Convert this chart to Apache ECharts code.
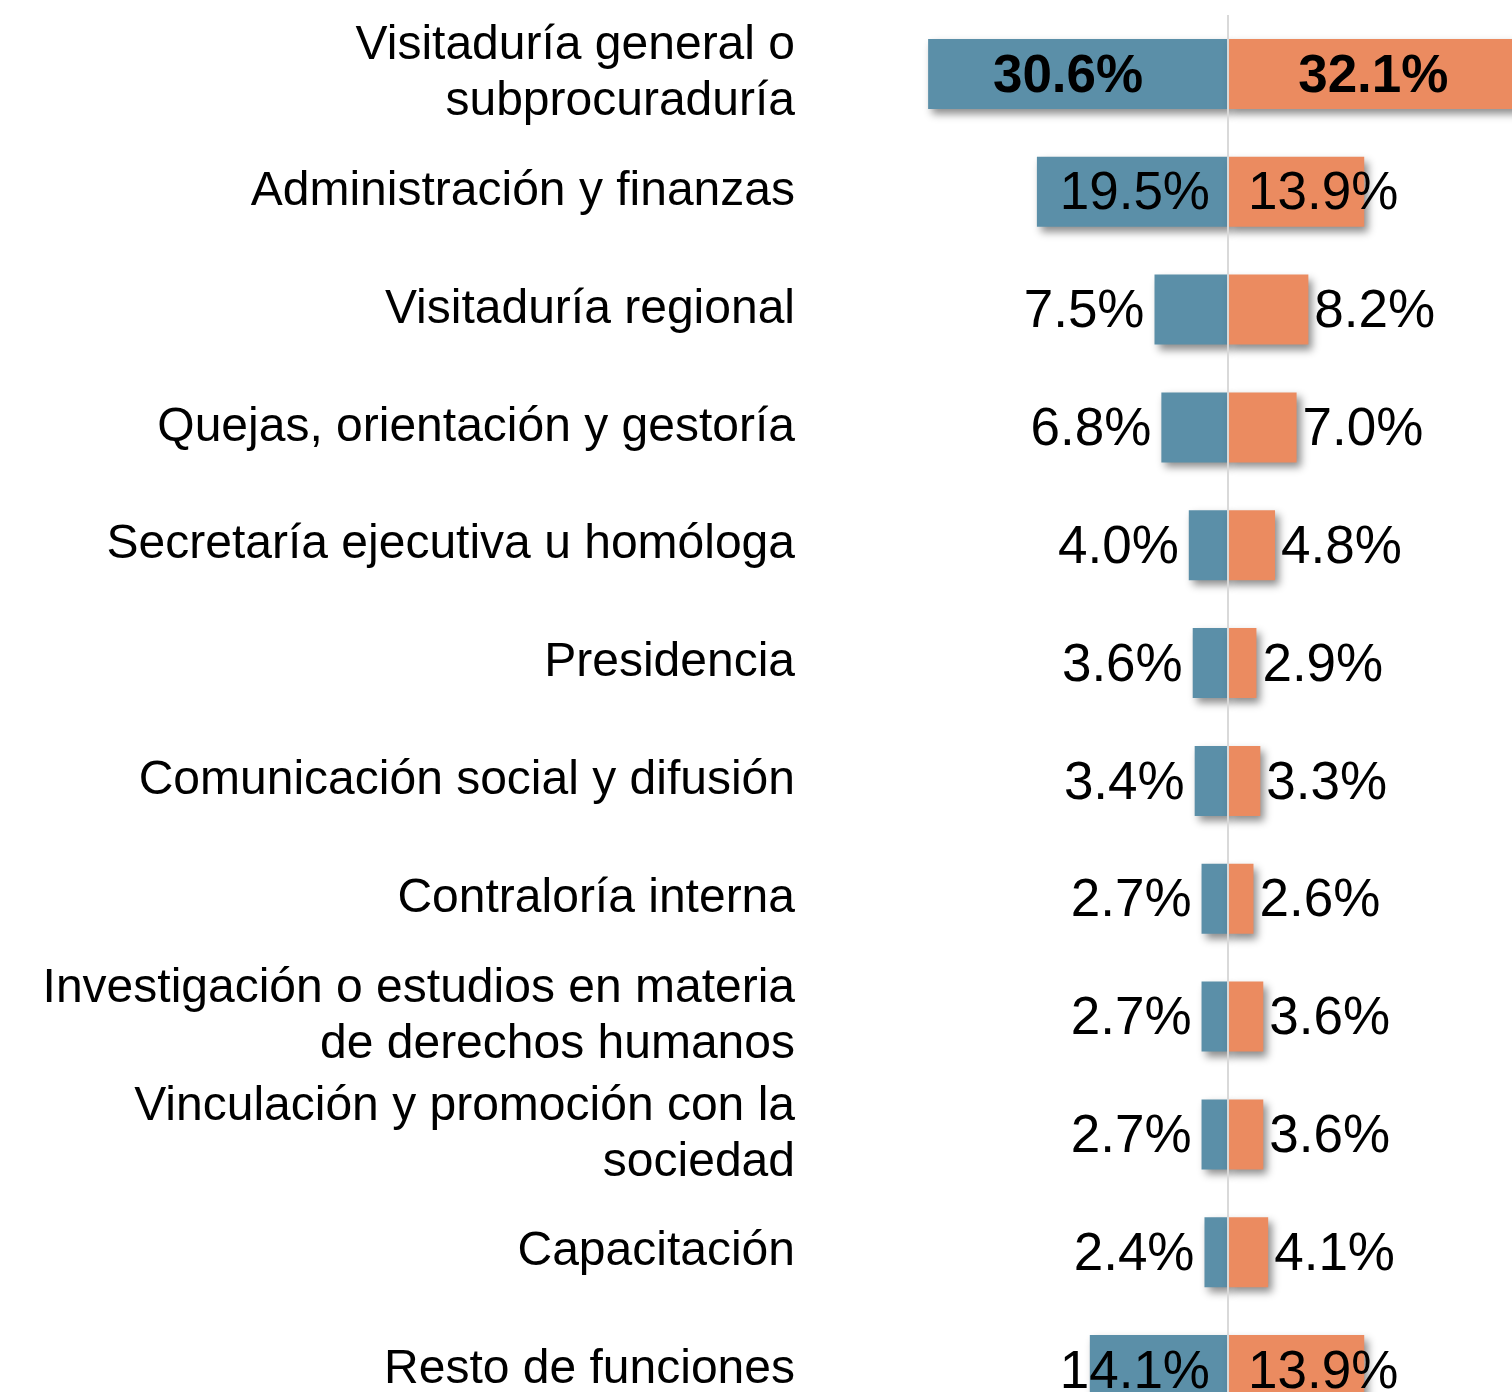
<!DOCTYPE html>
<html>
<head>
<meta charset="utf-8">
<script src="https://cdn.jsdelivr.net/npm/echarts@6/dist/echarts.min.js"></script>
<style>
html, body { margin: 0; padding: 0; background: #fff; }
#chart { width: 1512px; height: 1392px; }
</style>
</head>
<body>
<div id="chart"></div>
<script>
var myChart = echarts.init(document.getElementById('chart'));

// funciones, de arriba hacia abajo
var categories = [
    'Visitaduría general o\nsubprocuraduría',
    'Administración y finanzas',
    'Visitaduría regional',
    'Quejas, orientación y gestoría',
    'Secretaría ejecutiva u homóloga',
    'Presidencia',
    'Comunicación social y difusión',
    'Contraloría interna',
    'Investigación o estudios en materia\nde derechos humanos',
    'Vinculación y promoción con la\nsociedad',
    'Capacitación',
    'Resto de funciones'
];
var leftValues  = [30.6, 19.5, 7.5, 6.8, 4.0, 3.6, 3.4, 2.7, 2.7, 2.7, 2.4, 14.1];   // azul
var rightValues = [32.1, 13.9, 8.2, 7.0, 4.8, 2.9, 3.3, 2.6, 3.6, 3.6, 4.1, 13.9];   // naranja

var numFont = 'Liberation Sans, Arial, sans-serif';

var fmt = function (p) {
    return Math.abs(p.value).toFixed(1) + '%';
};

// etiqueta según el tamaño de la barra
var leftLabel = function (v) {
    if (v > 25) return {position: 'inside', offset: [-10, 3], fontWeight: 'bold'};
    if (v >= 10) return {position: 'insideRight', distance: 18, offset: [0, 3]};
    return {position: 'left', distance: 10, offset: [0, 3]};
};
var rightLabel = function (v) {
    if (v > 25) return {position: 'inside', offset: [-12, 3], fontWeight: 'bold'};
    if (v >= 10) return {position: 'insideLeft', distance: 20, offset: [0, 3]};
    return {position: 'right', distance: 6, offset: [0, 3]};
};

var leftData = leftValues.map(function (v) {
    return {value: -v, label: leftLabel(v)};
});
var rightData = rightValues.map(function (v) {
    return {value: v, label: rightLabel(v)};
});

var shadow = {
    shadowColor: 'rgba(0,0,0,0.45)',
    shadowBlur: 8,
    shadowOffsetX: 4,
    shadowOffsetY: 5
};

option = {
    backgroundColor: '#ffffff',
    animation: false,
    grid: {
        left: 836,
        top: 15,
        width: 784,      // sigue más allá del borde derecho, como el original
        height: 1414,    // la última fila queda cortada abajo
        containLabel: false,
        outerBoundsMode: 'none'
    },
    xAxis: {
        type: 'value',
        min: -40,
        max: 40,
        show: false,
        splitLine: {show: false}
    },
    yAxis: {
        type: 'category',
        data: categories,
        inverse: true,
        axisLine: {show: false, onZero: false},
        axisTick: {show: false},
        axisLabel: {
            margin: 41,
            color: '#000',
            fontSize: 48,
            lineHeight: 56,
            padding: [6, 0, 0, 0],
            fontFamily: numFont,
            align: 'right'
        }
    },
    series: [{
        name: 'izquierda',
        type: 'bar',
        data: leftData,
        barWidth: 70,
        barGap: '-100%',
        itemStyle: Object.assign({color: '#5b8fa8'}, shadow),
        label: {
            show: true,
            formatter: fmt,
            color: '#000',
            fontSize: 53,
            fontFamily: numFont
        }
    }, {
        name: 'derecha',
        type: 'bar',
        data: rightData,
        barWidth: 70,
        barGap: '-100%',
        itemStyle: Object.assign({color: '#eb8b60'}, shadow),
        label: {
            show: true,
            formatter: fmt,
            color: '#000',
            fontSize: 53,
            fontFamily: numFont
        },
        markLine: {
            silent: true,
            symbol: ['none', 'none'],
            label: {show: false},
            lineStyle: {color: '#d9d9d9', width: 2, type: 'solid'},
            data: [{xAxis: 0}]
        }
    }]
};

myChart.setOption(option);
</script>
</body>
</html>
